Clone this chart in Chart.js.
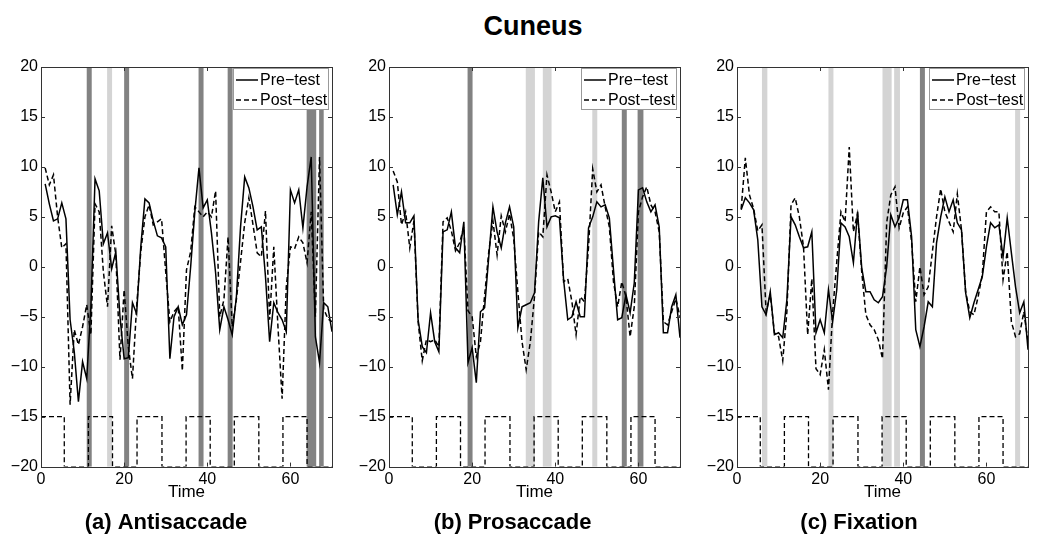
<!DOCTYPE html>
<html><head><meta charset="utf-8">
<script src="https://cdn.jsdelivr.net/npm/chart.js@4.4.0/dist/chart.umd.min.js"></script>
<style>
html,body{margin:0;padding:0;background:#fff;width:1050px;height:550px;overflow:hidden;}
#title{position:absolute;left:0;width:1066px;top:10px;text-align:center;font:bold 27px "Liberation Sans",Arial,sans-serif;color:#000;line-height:32px;}
canvas{position:absolute;top:0;}
</style></head><body>
<div id="title">Cuneus</div>
<canvas id="ca" width="345" height="550" style="left:0px"></canvas>
<canvas id="cb" width="345" height="550" style="left:345px"></canvas>
<canvas id="cc" width="360" height="550" style="left:690px"></canvas>
<script>
// ---------------- data ----------------
const time = [1,2,3,4,5,6,7,8,9,10,11,12,13,14,15,16,17,18,19,20,21,22,23,24,25,26,27,28,29,30,31,32,33,34,35,36,37,38,39,40,41,42,43,44,45,46,47,48,49,50,51,52,53,54,55,56,57,58,59,60,61,62,63,64,65,66,67,68,69,70];
const xTicks = [0, 20, 40, 60];
const yTicks = [-20, -15, -10, -5, 0, 5, 10, 15, 20];
const panelTitles = ['(a) Antisaccade', '(b) Prosaccade', '(c) Fixation'];
const seriesNames = ['Pre\u2212test', 'Post\u2212test'];

// task boxcar (switch times, levels)
const blockEdges = [5.6, 11.4, 17.2, 23.1, 29.1, 34.9, 40.7, 46.5, 52.4, 58.2, 64.0];
const blockLevels = [-15, -20];

const preA = [8.3,6.3,4.6,4.8,6.4,4.8,-5.3,-8.5,-13.5,-9.5,-11.2,-4,8.8,7.6,2.3,3.4,-0.2,1.5,-5,-9.2,-9.1,-3.6,-4.7,2,6.8,6.4,4.6,3.1,2.9,2.0,-9.2,-5,-4,-5.8,-4.8,0,5.5,9.9,5.9,6.7,3.4,-0.6,-6.3,-4,-5.3,-6.8,-3,4,9,7.9,6,3.7,4,-1,-7.5,-3.6,-4.6,-5.3,-6.5,7.7,6.4,7.7,3.9,8,11,-7,-9.6,-3.6,-4,-6.5];
const postA = [9.9,8.2,9.2,5.0,1.9,2.3,-13.8,-6.3,-7.8,-6.0,-3.8,-6.8,6.3,5.5,-0.5,-4.0,4.1,1.2,-9.3,-2.3,-8.0,-11.2,-4,1.5,5.0,6.2,4.2,4.5,4.8,-0.5,-5.5,-4.5,-4.0,-10.4,-0.3,1.5,6.0,5.5,5.0,5.5,5.0,7.6,-5,-3.3,3.0,-6,-3.3,0.5,4.4,6.9,4.2,1.4,1.0,5.6,-5.3,2.0,-6,-13.2,-2,2,1.8,3,2.4,0.4,5.5,-5,11,-4.2,-5.2,-5.5];
const preB = [8.2,5.2,7.5,4.4,4.4,5.1,-5.3,-8,-8.6,-4.6,-7.5,-8.5,3.5,3.7,5.5,1.9,1.4,4.5,-9.6,-8.1,-11.6,-4.5,-4.1,1.0,6.0,3.5,1.9,4.4,6.0,4,-6.1,-4,-3.8,-3.6,-2.6,4.5,8.9,4,5,5.1,4.9,-1.3,-5.3,-5,-3.5,-5,-5,3.9,5,6.5,6,6.2,4.9,-0.3,-5.3,-5.1,-2.8,-4.6,-1.6,7.7,7.9,6.5,5.5,6.2,4,-6.6,-6.6,-4,-2.8,-7.1];
const postB = [9.6,8.5,4.2,5.5,1.9,4.6,-5.5,-9.4,-7.3,-7.5,-7.3,-8.0,4.5,4.9,3.6,1.6,2.4,4.0,-4.4,-5.0,-9,-7.5,-2.9,1.5,4.6,1.2,5.1,3.5,5.3,2.8,-2.5,-7.5,-10.3,-7.5,-3,3.5,3.0,9.2,7.5,5.5,6.5,-1.5,-1.2,-3.5,-6.8,-3,-3.5,2,9.8,7.5,8.2,6.0,4.0,-1.5,-4,-1.5,-3,-7,-4,5.5,7.0,8.0,6.2,5.5,3.5,-5.5,-5.8,-4.5,-3.2,-5.0];
const preC = [5.7,6.9,6.4,5.7,2.7,-4,-4.8,-2.5,-6.8,-6.6,-7.1,-3.3,5.0,4.2,3.0,1.9,2.0,3.5,-6.6,-5.3,-6.6,-2.3,-5.5,-2.3,4.4,4.0,3.0,0.4,5.5,-0.1,-2.5,-2.5,-3.3,-3.6,-3,0,5.2,4,4.9,6.7,6.7,3,-6.3,-8,-6,-3.5,-4,2.4,5,7,5.5,6.7,4.4,3.7,-2.6,-5.1,-3.6,-2.3,-1,2,4.4,3.9,4.2,1,4.9,1.4,-2,-4.6,-3.5,-8.3];
const postC = [5.8,10.9,7.2,5.8,3.6,4.2,-4.5,-2.8,-6.6,-7.0,-9.4,-4.5,6.2,6.9,5.0,2.0,-6.8,-1.2,-10.2,-10.8,-8.3,-12.3,-4.6,0.5,5.5,4.5,12,3.5,5.3,-0.5,-4.8,-5.8,-6.3,-7.3,-9.2,4.4,7.2,8,3.9,5.4,6.0,2.5,-3.5,0,-2.8,-2.0,1.5,5.0,7.8,5.5,4.5,3.5,7.3,3.7,-2.5,-4.5,-4.8,-3,-0.8,5.5,6.0,5.5,5.5,-1.3,1.5,-5.5,-7.0,-6.7,-4.5,-7.5];

// significant time windows [start, end]
const darkBandsA = [[11.0,12.2],[20.0,21.2],[37.9,39.1],[44.9,46.1],[63.9,66.2],[66.9,68.0]];
const lightBandsA = [[15.9,17.1]];
const darkBandsB = [[18.9,20.1],[56.0,57.2],[59.8,61.2]];
const lightBandsB = [[32.9,35.1],[37.0,39.1],[48.9,50.1]];
const darkBandsC = [[44.0,45.2]];
const lightBandsC = [[6.0,7.3],[22.0,23.2],[35.0,37.2],[37.8,39.2],[66.9,68.1]];

// ---------------- drawing ----------------
const FONT = '"Liberation Sans", Arial, Helvetica, sans-serif';
Chart.defaults.font.family = FONT;
Chart.defaults.color = '#000';

function boxcar(){
  const pts = [{x: 0, y: blockLevels[0]}];
  blockEdges.forEach((e, i) => pts.push({x: e, y: blockLevels[(i + 1) % 2]}));
  pts.push({x: 70, y: blockLevels[blockEdges.length % 2]});
  return pts;
}

const bandsPlugin = {
  id: 'bands',
  beforeDatasetsDraw(chart, args, opts){
    const {ctx, chartArea: a, scales: {x}} = chart;
    ctx.save();
    const draw = (list, color) => list.forEach(([s, e]) => {
      const x0 = x.getPixelForValue(s), x1 = x.getPixelForValue(e);
      ctx.fillStyle = color;
      ctx.fillRect(x0, a.top, x1 - x0, a.bottom - a.top);
    });
    draw(opts.light || [], '#d4d4d4');
    draw(opts.dark || [], '#828282');
    ctx.restore();
  }
};

const framePlugin = {
  id: 'frame',
  afterDatasetsDraw(chart){
    const {ctx, chartArea: a, scales: {x, y}} = chart;
    ctx.save();
    ctx.strokeStyle = '#333';
    ctx.lineWidth = 1;
    ctx.strokeRect(Math.round(a.left) + 0.5, Math.round(a.top) + 0.5, Math.round(a.right - a.left), Math.round(a.bottom - a.top));
    ctx.beginPath();
    const L = 4;
    yTicks.forEach(v => {
      const py = Math.round(y.getPixelForValue(v)) + 0.5;
      ctx.moveTo(a.left, py); ctx.lineTo(a.left + L, py);
      ctx.moveTo(a.right, py); ctx.lineTo(a.right - L, py);
    });
    xTicks.forEach(v => {
      const px = Math.round(x.getPixelForValue(v)) + 0.5;
      ctx.moveTo(px, a.bottom); ctx.lineTo(px, a.bottom - L);
      ctx.moveTo(px, a.top); ctx.lineTo(px, a.top + L);
    });
    ctx.stroke();
    ctx.restore();
  },
  afterDraw(chart){
    // legend box in upper right of the axes
    const {ctx, chartArea: a} = chart;
    const items = chart.data.datasets.filter(d => d.inLegend);
    const w = 95, h = 41, bx = Math.round(a.right) - 99, by = Math.round(a.top) + 1;
    ctx.save();
    ctx.fillStyle = '#fff';
    ctx.fillRect(bx, by, w, h);
    ctx.strokeStyle = '#999';
    ctx.lineWidth = 1;
    ctx.strokeRect(bx + 0.5, by + 0.5, w, h);
    items.forEach((d, i) => {
      const cy = by + 12 + i * 20;
      ctx.beginPath();
      ctx.setLineDash(d.borderDash || []);
      ctx.strokeStyle = d.borderColor;
      ctx.lineWidth = d.borderWidth;
      ctx.moveTo(bx + 3, cy); ctx.lineTo(bx + 25, cy);
      ctx.stroke();
      ctx.setLineDash([]);
      ctx.fillStyle = '#000';
      ctx.font = '16px ' + FONT;
      ctx.textBaseline = 'middle';
      ctx.textAlign = 'left';
      ctx.fillText(d.label, bx + 27, cy + 1);
    });
    ctx.restore();
  }
};

const minus = v => (v < 0 ? '\u2212' + Math.abs(v) : String(v));

function makePanel(id, title, pre, post, dark, light, yAxisWidth, padRight){
  new Chart(document.getElementById(id), {
    type: 'line',
    data: {
      labels: time,
      datasets: [
        {label: seriesNames[0], data: pre, borderColor: '#000', borderWidth: 1.5, pointRadius: 0, tension: 0, fill: false, inLegend: true},
        {label: seriesNames[1], data: post, borderColor: '#000', borderWidth: 1.5, borderDash: [5, 3], pointRadius: 0, tension: 0, fill: false, inLegend: true},
        {label: 'Task', data: boxcar(), borderColor: '#000', borderWidth: 1.3, borderDash: [5, 3], pointRadius: 0, stepped: 'before', fill: false, inLegend: false}
      ]
    },
    options: {
      responsive: false,
      animation: false,
      devicePixelRatio: 1,
      layout: {padding: {left: 0, right: padRight, top: 67, bottom: 8}},
      plugins: {
        legend: {display: false},
        tooltip: {enabled: false},
        title: {display: true, position: 'bottom', text: title, color: '#000',
                font: {size: 22, weight: 'bold', family: FONT}, padding: {top: 3, bottom: 6}},
        bands: {dark: dark, light: light}
      },
      scales: {
        x: {
          type: 'linear', min: 0, max: 70,
          grid: {display: false, drawTicks: false},
          border: {display: false},
          afterBuildTicks: s => { s.ticks = xTicks.map(v => ({value: v})); },
          afterFit: s => { s.height = 40; },
          ticks: {font: {size: 16}, color: '#000', padding: 3, maxRotation: 0},
          title: {display: true, text: 'Time', font: {size: 17}, color: '#000', padding: {top: 0, bottom: 4}}
        },
        y: {
          type: 'linear', min: -20, max: 20,
          grid: {display: false, drawTicks: false},
          border: {display: false},
          afterBuildTicks: s => { s.ticks = yTicks.map(v => ({value: v})); },
          afterFit: s => { s.width = yAxisWidth; },
          ticks: {font: {size: 16}, color: '#000', padding: 3, callback: v => minus(v)}
        }
      }
    },
    plugins: [bandsPlugin, framePlugin]
  });
}

makePanel('ca', panelTitles[0], preA, postA, darkBandsA, lightBandsA, 41, 13);
makePanel('cb', panelTitles[1], preB, postB, darkBandsB, lightBandsB, 44, 10);
makePanel('cc', panelTitles[2], preC, postC, darkBandsC, lightBandsC, 47, 22);
</script>
</body></html>
